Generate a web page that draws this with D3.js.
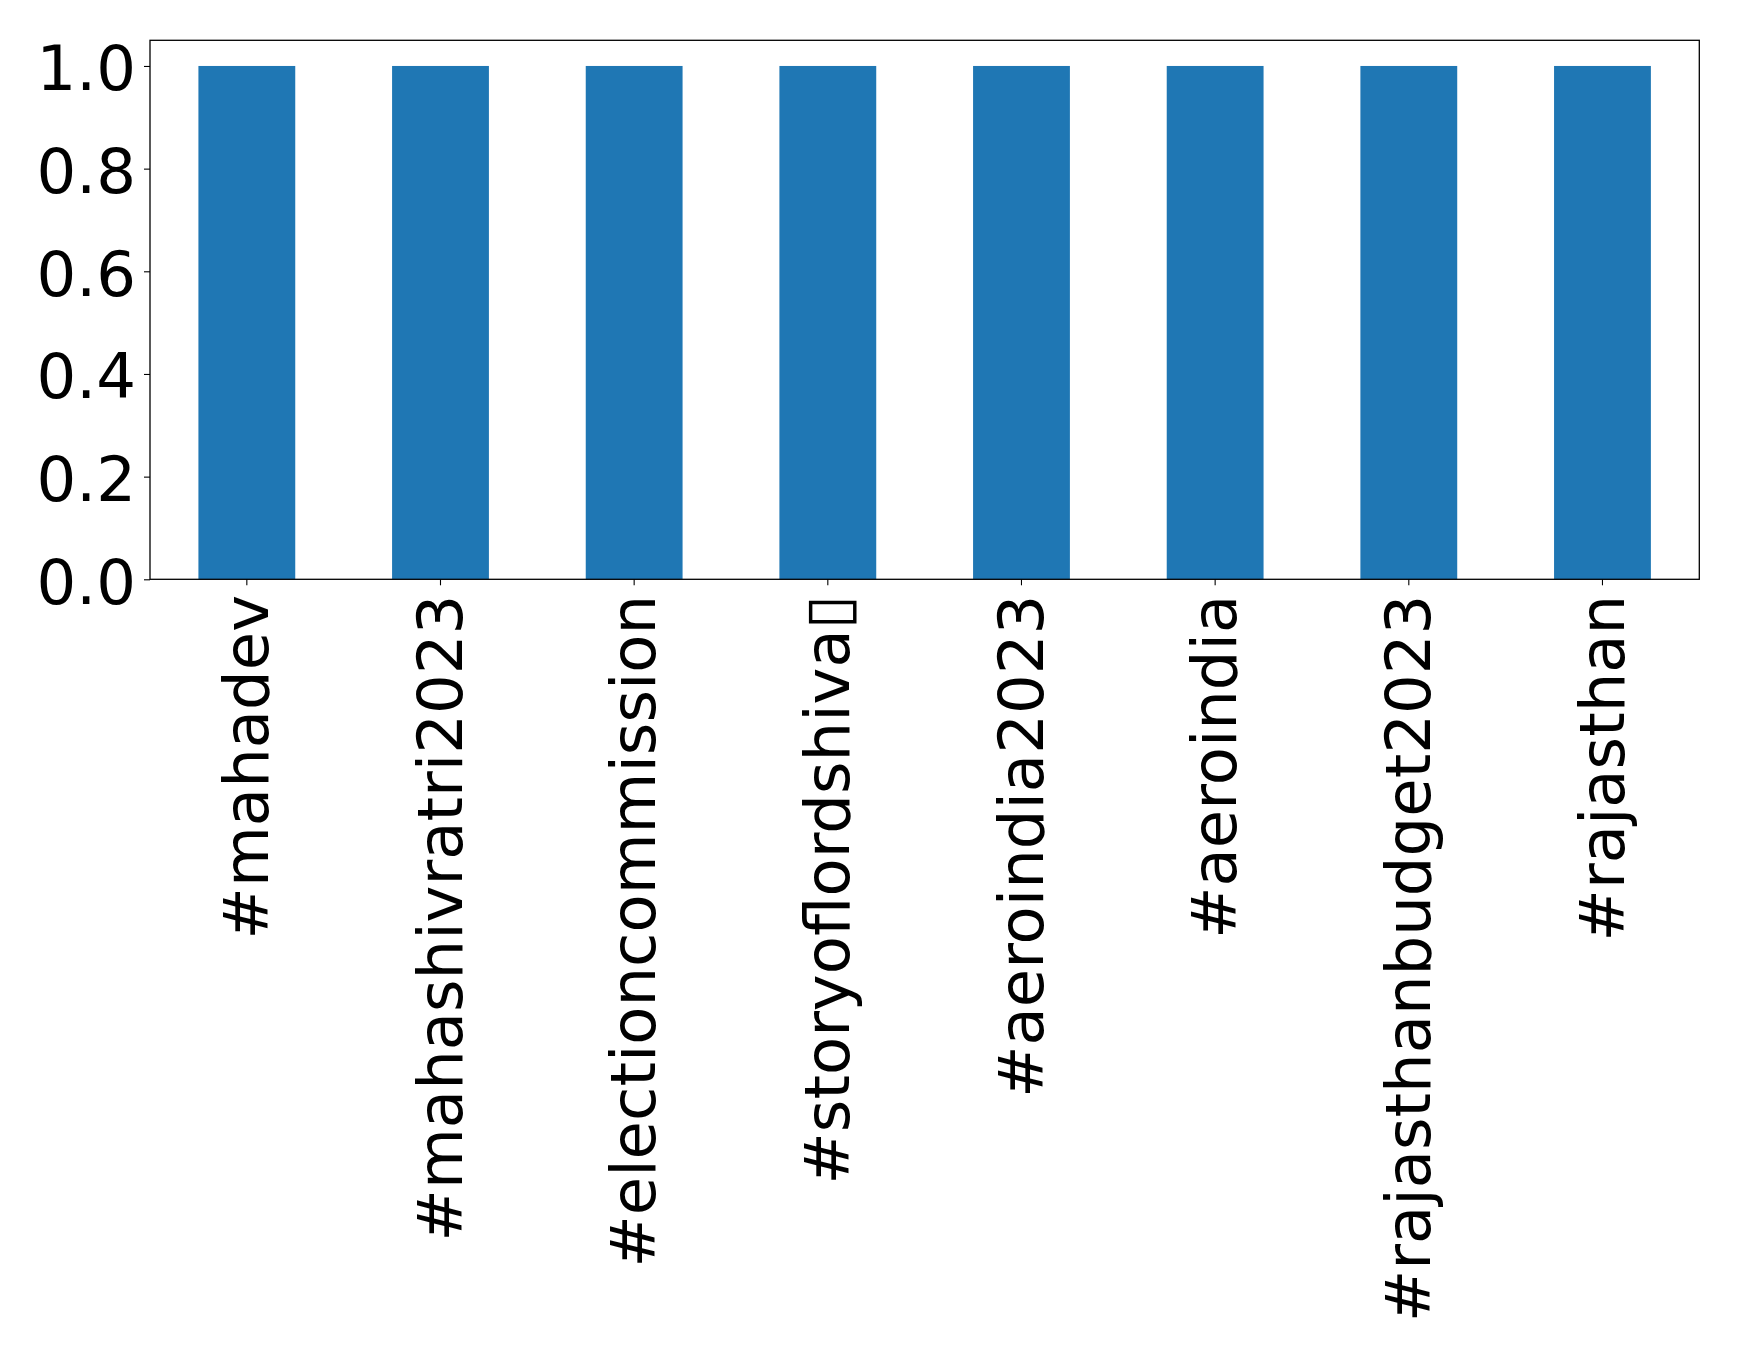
<!DOCTYPE html>
<html>
<head>
<meta charset="utf-8">
<script src="https://cdn.jsdelivr.net/npm/d3@7"></script>
<style>
  html, body { margin: 0; padding: 0; background: #ffffff; }
  svg { display: block; }
  text { font-family: "DejaVu Sans", sans-serif; fill: #000; }
</style>
</head>
<body>
<svg id="chart" width="1739" height="1355"></svg>
<script>
const categories = ["#mahadev", "#mahashivratri2023", "#electioncommission", "#storyoflordshiva\u25AF", "#aeroindia2023", "#aeroindia", "#rajasthanbudget2023", "#rajasthan"];
const values = [1, 1, 1, 1, 1, 1, 1, 1];
const yTicks = [0.0, 0.2, 0.4, 0.6, 0.8, 1.0];

const W = 1739, H = 1355;
const mLeft = 150, mRight = 1699.3, mTop = 40.3, mBottom = 579.3;
const fontSize = 62.5;

const svg = d3.select("#chart");
svg.append("rect").attr("width", W).attr("height", H).attr("fill", "#fff");

const x = d3.scaleBand().domain(categories).range([mLeft, mRight]).paddingInner(0.5).paddingOuter(0.25);
const y = d3.scaleLinear().domain([0, 1.05]).range([mBottom, mTop]);

// bars
svg.append("g").selectAll("rect").data(categories).join("rect")
  .attr("x", d => x(d))
  .attr("width", x.bandwidth())
  .attr("y", (d, i) => y(values[i]))
  .attr("height", (d, i) => y(0) - y(values[i]))
  .attr("fill", "#1f77b4");

// y axis
const yAxis = d3.axisLeft(y).tickValues(yTicks).tickFormat(d3.format(".1f")).tickSize(6).tickPadding(8);
const gy = svg.append("g").attr("transform", `translate(${mLeft},0)`).call(yAxis);
gy.select(".domain").remove();
gy.selectAll(".tick line").attr("stroke", "#000").attr("stroke-width", 1.1);
gy.selectAll(".tick text")
  .attr("font-size", fontSize)
  .attr("font-family", "DejaVu Sans, sans-serif")
  .attr("fill", "#000")
  .attr("dy", "0.38em");

// x axis
const xAxis = d3.axisBottom(x).tickSize(6).tickPadding(0);
const gx = svg.append("g").attr("transform", `translate(0,${mBottom})`).call(xAxis);
gx.select(".domain").remove();
gx.selectAll(".tick line").attr("stroke", "#000").attr("stroke-width", 1.1);
gx.selectAll(".tick text")
  .attr("font-size", fontSize)
  .attr("font-family", "DejaVu Sans, sans-serif")
  .attr("fill", "#000")
  .attr("text-anchor", "end")
  .attr("transform", "translate(0,15.5) rotate(-90)")
  .attr("x", 0)
  .attr("y", 0)
  .attr("dy", "0.34em");

// frame
svg.append("rect")
  .attr("x", mLeft).attr("y", mTop)
  .attr("width", mRight - mLeft).attr("height", mBottom - mTop)
  .attr("fill", "none").attr("stroke", "#000").attr("stroke-width", 1.3);
</script>
</body>
</html>
